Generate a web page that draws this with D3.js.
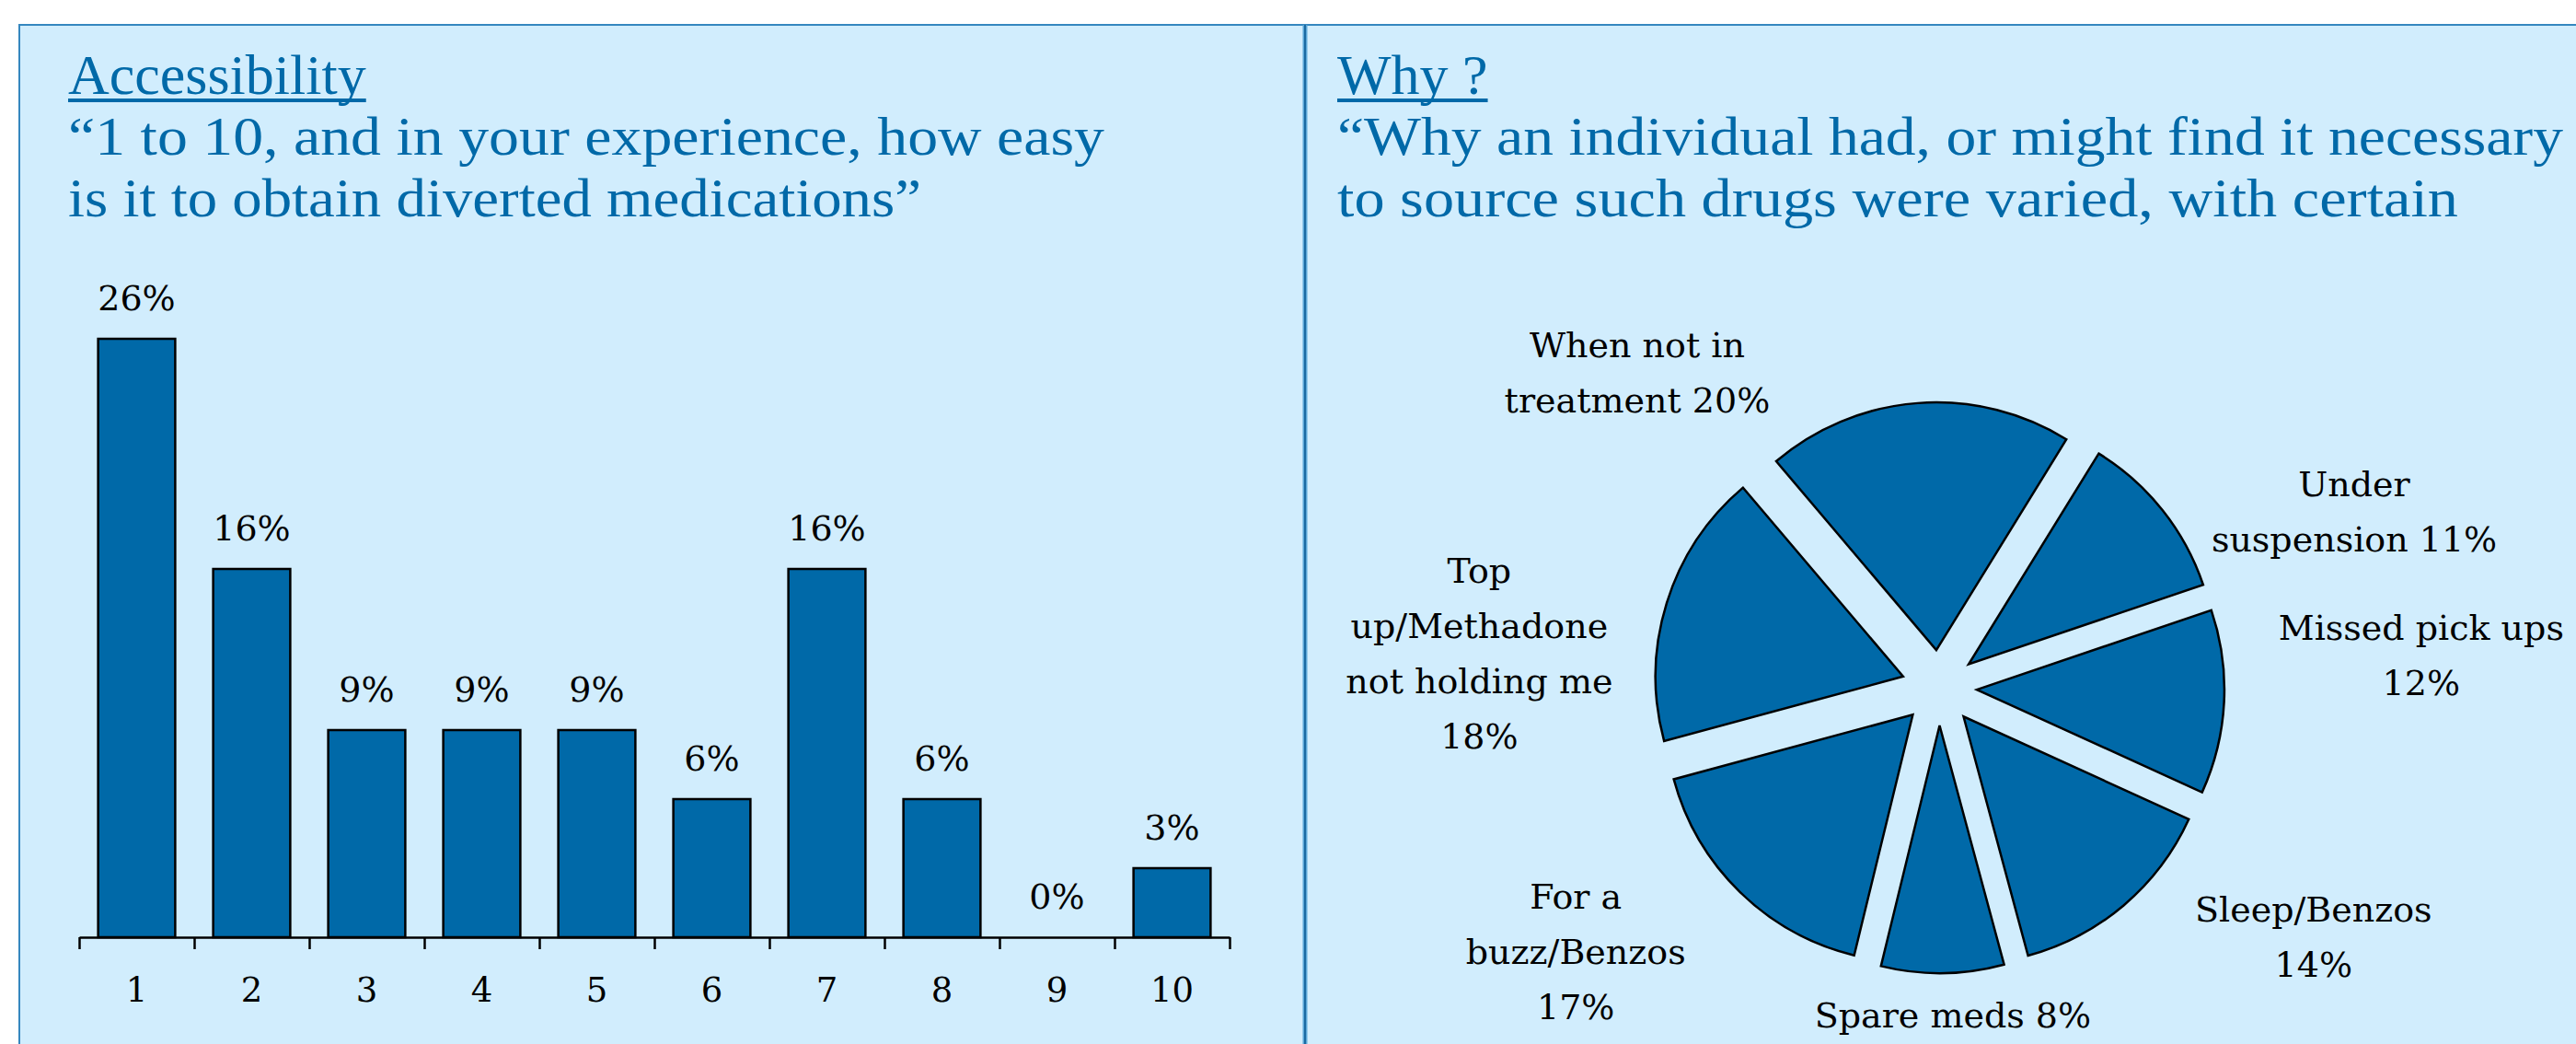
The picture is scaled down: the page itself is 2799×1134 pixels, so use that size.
<!DOCTYPE html>
<html>
<head>
<meta charset="utf-8">
<script src="https://cdn.jsdelivr.net/npm/d3@7"></script>
<style>
  html, body { margin: 0; padding: 0; background: #ffffff; }
  svg { display: block; }
</style>
</head>
<body>
<svg id="chart" width="2799" height="1134"></svg>
<script>
// ---- data ----
var barCategories = ["1", "2", "3", "4", "5", "6", "7", "8", "9", "10"];
var barValues = [26, 16, 9, 9, 9, 6, 16, 6, 0, 3];

var pieCategories = ["When not in treatment", "Under suspension", "Missed pick ups",
    "Sleep/Benzos", "Spare meds", "For a buzz/Benzos", "Top up/Methadone not holding me"];
var pieValues = [20, 11, 12, 14, 8, 17, 18];
// how each pie label breaks into lines, {v} is the value
var pieLabelLines = [
    ["When not in", "treatment {v}"],
    ["Under", "suspension {v}"],
    ["Missed pick ups", "{v}"],
    ["Sleep/Benzos", "{v}"],
    ["Spare meds {v}"],
    ["For a", "buzz/Benzos", "{v}"],
    ["Top", "up/Methadone", "not holding me", "{v}"]
];

var leftTitle = "Accessibility";
var leftSubtitle = ["\u201C1 to 10, and in your experience, how easy", "is it to obtain diverted medications\u201D"];
var rightTitle = "Why ?";
var rightSubtitle = ["\u201CWhy an individual had, or might find it necessary", "to source such drugs were varied, with certain"];

// ---- styling ----
var W = 2799, H = 1134;
var panelBg = "#d1edfd";
var blue = "#0069a8";
var titleFont = "'Liberation Serif', 'Times New Roman', serif";
var labelFont = "'DejaVu Serif', serif";

var svg = d3.select("#chart");

svg.append("rect").attr("x", 0).attr("y", 0).attr("width", W).attr("height", H).attr("fill", "#ffffff");

// panel background + frame
svg.append("rect")
    .attr("x", 21).attr("y", 27)
    .attr("width", W).attr("height", H)
    .attr("fill", panelBg)
    .attr("stroke", "#3587bf")
    .attr("stroke-width", 2);

// divider between the two panels
svg.append("line").attr("x1", 1418).attr("x2", 1418).attr("y1", 27).attr("y2", H)
    .attr("stroke", "#5aa6d6").attr("stroke-width", 5);
svg.append("line").attr("x1", 1418).attr("x2", 1418).attr("y1", 27).attr("y2", H)
    .attr("stroke", "#1b6aa2").attr("stroke-width", 2);

/**
 * Writes an underlined heading plus a two line quoted subtitle.
 */
function addHeading(x, title, lines, widths) {
    var t = svg.append("text")
        .attr("x", x).attr("y", 102)
        .attr("font-family", titleFont)
        .attr("font-size", 62)
        .attr("fill", blue)
        .text(title);
    var len = t.node().getComputedTextLength();
    svg.append("rect")
        .attr("x", x).attr("y", 107)
        .attr("width", len).attr("height", 4)
        .attr("fill", blue);

    lines.forEach(function (line, i) {
        svg.append("text")
            .attr("x", x).attr("y", 168 + i * 67)
            .attr("font-family", titleFont)
            .attr("font-size", 60)
            .attr("fill", blue)
            .attr("textLength", widths[i])
            .attr("lengthAdjust", "spacingAndGlyphs")
            .text(line);
    });
}

addHeading(74, leftTitle, leftSubtitle, [1126, 927]);
addHeading(1453, rightTitle, rightSubtitle, [1332, 1218]);

// ---- bar chart ----
var pad = 0.33;
var x = d3.scaleBand()
    .domain(barCategories)
    .range([86, 1336])
    .paddingInner(pad)
    .paddingOuter(pad / 2);
var y = d3.scaleLinear().domain([0, 26]).range([1018, 368]);

var bars = svg.append("g").attr("class", "bars");
bars.selectAll("rect")
    .data(barValues)
    .enter().append("rect")
    .attr("x", function (d, i) { return x(barCategories[i]); })
    .attr("y", function (d) { return y(d); })
    .attr("width", x.bandwidth())
    .attr("height", function (d) { return y(0) - y(d); })
    .attr("fill", blue)
    .attr("stroke", "#000")
    .attr("stroke-width", 2.5)
    .style("display", function (d) { return d > 0 ? null : "none"; });

bars.selectAll("text")
    .data(barValues)
    .enter().append("text")
    .attr("x", function (d, i) { return x(barCategories[i]) + x.bandwidth() / 2; })
    .attr("y", function (d) { return y(d) - 31; })
    .attr("text-anchor", "middle")
    .attr("font-family", labelFont)
    .attr("font-size", 38)
    .attr("fill", "#000")
    .text(function (d) { return d + "%"; });

// tick marks sit on the band boundaries
var boundary = d3.scaleLinear().domain([0, barCategories.length]).range(x.range());
svg.append("g")
    .attr("transform", "translate(0," + y(0) + ")")
    .call(d3.axisBottom(boundary)
        .tickValues(d3.range(barCategories.length + 1))
        .tickFormat("")
        .tickSize(13)
        .tickSizeOuter(0))
    .call(function (g) {
        g.select(".domain").attr("stroke", "#000").attr("stroke-width", 2.5);
        g.selectAll(".tick line").attr("stroke", "#000").attr("stroke-width", 2.5);
    });

// category labels under each band
svg.append("g")
    .attr("transform", "translate(0," + y(0) + ")")
    .call(d3.axisBottom(x).tickSize(0).tickPadding(70))
    .call(function (g) {
        g.select(".domain").remove();
        g.selectAll("text")
            .attr("font-family", labelFont)
            .attr("font-size", 37)
            .attr("fill", "#000")
            .attr("dy", 0);
    });

// ---- exploded pie ----
var cx = 2107, cy = 747, radius = 269, explode = 41;
var start = -40.3 * Math.PI / 180;
var pie = d3.pie().sort(null).value(function (d) { return d; })
    .startAngle(start).endAngle(start + 2 * Math.PI);
var arc = d3.arc().innerRadius(0).outerRadius(radius);
var arcs = pie(pieValues);

var pieG = svg.append("g").attr("transform", "translate(" + cx + "," + cy + ")");
pieG.selectAll("path")
    .data(arcs)
    .enter().append("path")
    .attr("d", arc)
    .attr("transform", function (d) {
        var a = (d.startAngle + d.endAngle) / 2;
        return "translate(" + (Math.sin(a) * explode) + "," + (-Math.cos(a) * explode) + ")";
    })
    .attr("fill", blue)
    .attr("stroke", "#000")
    .attr("stroke-width", 2.5)
    .append("title").text(function (d, i) { return pieCategories[i]; });

// where each label block sits: angle (deg, clockwise from 12) and distance from the pie centre
var labelSpots = [[-43.8, 474], [67, 490], [86.2, 525], [123.7, 489], [177.6, 356], [234, 488], [274.2, 501]];
var lineGap = 60;

arcs.forEach(function (d, i) {
    var spot = labelSpots[i];
    var a = spot[0] * Math.PI / 180;
    var lx = Math.sin(a) * spot[1];
    var ly = -Math.cos(a) * spot[1];
    var lines = pieLabelLines[i].map(function (s) { return s.replace("{v}", d.data + "%"); });
    var top = ly - (lines.length - 1) * lineGap / 2 + 13;
    var t = pieG.append("text")
        .attr("text-anchor", "middle")
        .attr("font-family", labelFont)
        .attr("font-size", 38)
        .attr("fill", "#000");
    lines.forEach(function (line, k) {
        t.append("tspan").attr("x", lx).attr("y", top + k * lineGap).text(line);
    });
});
</script>
</body>
</html>
